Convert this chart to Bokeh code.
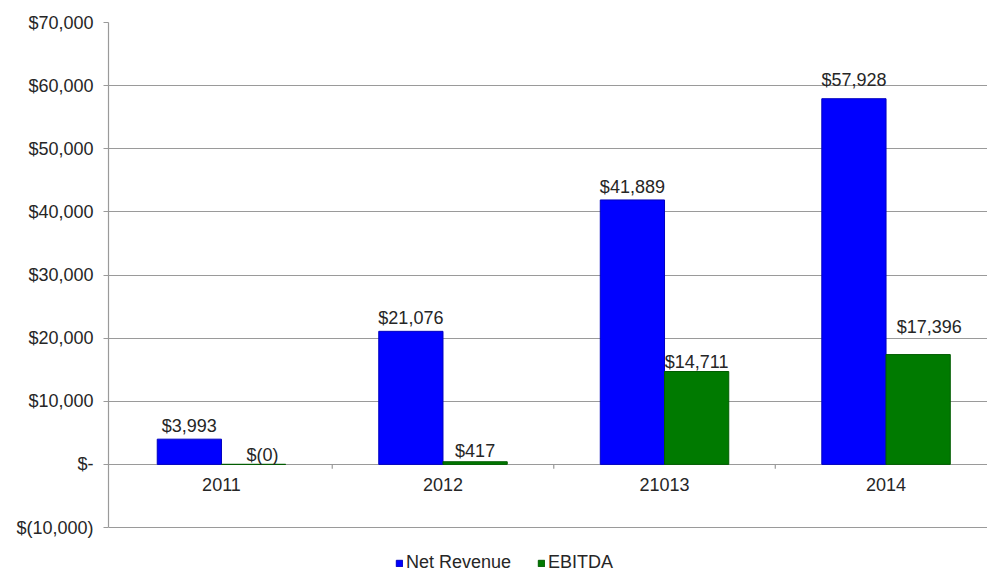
from bokeh.plotting import figure
from bokeh.models import Legend, LegendItem, FixedTicker, ColumnDataSource, Range1d
from bokeh.core.properties import value
from bokeh.embed import file_html
from bokeh.resources import INLINE

# ---- data ----
categories = ["2011", "2012", "21013", "2014"]
series_names = ["Net Revenue", "EBITDA"]
net_revenue = [3993, 21076, 41889, 57928]
ebitda = [-0.2, 417, 14711, 17396]
y_tick_values = [-10000, 0, 10000, 20000, 30000, 40000, 50000, 60000, 70000]

# ---- styling ----
FONT = "Liberation Sans"
TXT = "#262626"
GRID = "#9a9a9a"
BLUE = "#0000ff"
GREEN = "#007a00"
BAR_W = 0.29
# label nudges in screen pixels (style only)
net_dy = [-13, -13, -13, -19]
ebitda_dy = [-9, -11, -10, -28]
ebitda_dx = [9, 0, 0, 11]


def money(v, dash_zero=False):
    r = int(round(abs(v)))
    if dash_zero and r == 0:
        return "$-"
    s = "{:,}".format(r)
    return "$(" + s + ")" if v < 0 else "$" + s


centers = [i + 0.5 for i in range(len(categories))]
y_lo, y_hi = min(y_tick_values), max(y_tick_values)
# extra room under the lowest tick so that the legend sits inside the frame
y_pad = (y_hi - y_lo) * 50.0 / 505.0

p = figure(width=987, height=577, output_backend="svg", toolbar_location=None,
           x_range=Range1d(-0.01, 3.958), y_range=Range1d(y_lo - y_pad, y_hi),
           x_axis_location=None, min_border_left=108, min_border_top=22,
           min_border_right=0, min_border_bottom=0)
p.outline_line_color = None
p.background_fill_color = "white"
p.border_fill_color = "white"

# grid
p.xgrid.grid_line_color = None
p.ygrid.grid_line_color = GRID
p.ygrid.grid_line_width = 1.2

# y axis
p.yaxis.ticker = FixedTicker(ticks=y_tick_values)
p.yaxis.bounds = (y_lo, y_hi)
p.yaxis.major_label_overrides = {t: money(t, dash_zero=True) for t in y_tick_values}
p.yaxis.axis_line_color = GRID
p.yaxis.axis_line_width = 1.2
p.yaxis.major_tick_line_color = GRID
p.yaxis.major_tick_out = 5
p.yaxis.major_tick_in = 0
p.yaxis.minor_tick_line_color = None
p.yaxis.major_label_standoff = 10
p.yaxis.major_label_text_font = FONT
p.yaxis.major_label_text_font_size = "18px"
p.yaxis.major_label_text_color = TXT

# bars
src = ColumnDataSource(dict(
    cat=categories,
    xn=[c - BAR_W / 2 for c in centers],
    xe=[c + BAR_W / 2 for c in centers],
    net=net_revenue,
    ebit=ebitda,
    net_lbl=[money(v) for v in net_revenue],
    ebit_lbl=[money(v) for v in ebitda],
    ndy=net_dy, edy=ebitda_dy, edx=ebitda_dx,
    xc=centers,
))

r_net = p.vbar(x="xn", top="net", bottom=0, width=BAR_W, source=src,
               fill_color=BLUE, line_color="#0000c0", line_width=1)
r_ebit = p.vbar(x="xe", top="ebit", bottom=0, width=BAR_W, source=src,
                fill_color=GREEN, line_color="#005c00", line_width=1)

# category boundary ticks on zero line
bounds = list(range(1, len(categories)))
p.segment(x0=bounds, x1=bounds, y0=[0] * len(bounds), y1=[-700] * len(bounds),
          line_color=GRID, line_width=1.2)

# value labels
p.text(x="xn", y="net", text="net_lbl", source=src, y_offset="ndy",
       text_align="center", text_baseline="alphabetic",
       text_font=value(FONT), text_font_size="18px", text_color=TXT)
p.text(x="xe", y="ebit", text="ebit_lbl", source=src, y_offset="edy", x_offset="edx",
       text_align="center", text_baseline="alphabetic",
       text_font=value(FONT), text_font_size="18px", text_color=TXT)

# category labels at zero line
p.text(x="xc", y=0, text="cat", source=src, y_offset=14,
       text_align="center", text_baseline="top",
       text_font=value(FONT), text_font_size="18px", text_color=TXT)

legend = Legend(items=[LegendItem(label=series_names[0], renderers=[r_net]),
                       LegendItem(label=series_names[1], renderers=[r_ebit])],
                orientation="horizontal", location=(287, 4),
                glyph_width=8, glyph_height=8, label_standoff=3, spacing=26,
                padding=0, margin=0, border_line_color=None,
                background_fill_alpha=0,
                label_text_font=FONT, label_text_font_size="18px",
                label_text_color=TXT)
p.add_layout(legend, "center")

open("out.html", "w").write(file_html(p, INLINE))
